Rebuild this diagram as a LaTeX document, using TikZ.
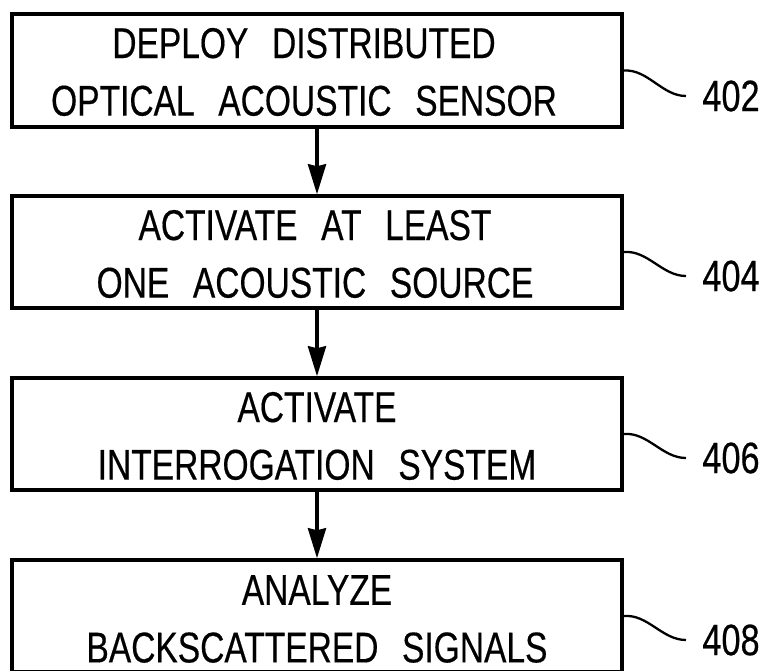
\documentclass[tikz,border=0pt]{standalone}
\usepackage{fontspec}
\setmainfont{Liberation Sans}[FakeStretch=0.78,FakeBold=0.4]
\usetikzlibrary{arrows.meta}
\newcommand{\wgap}{\hspace{0.55em}}
\begin{document}
\begin{tikzpicture}[x=0.5pt,y=-0.5pt,
  stepbox/.style={draw,line width=1.75pt,minimum width=305pt,minimum height=56pt,inner sep=0pt},
  steptext/.style={inner sep=0pt,align=center,font=\fontsize{21.5}{28.8}\selectfont},
  flow/.style={line width=1.75pt,-{Stealth[length=15pt,width=9pt,inset=1pt]}},
  leader/.style={line width=1.15pt},
  reflabel/.style={font=\fontsize{22}{26}\selectfont,anchor=west,inner sep=0pt}]
\useasboundingbox (0,0) rectangle (768,671);
\node[stepbox,minimum height=56.5pt] (b1) at (317,70.5) {};
\node[stepbox] (b2) at (317,252) {};
\node[stepbox] (b3) at (317,434) {};
\node[stepbox] (b4) at (317,616) {};
\node[steptext] (t1) at (304,72) {DEPLOY\wgap DISTRIBUTED\\OPTICAL\wgap ACOUSTIC\wgap SENSOR};
\node[steptext] (t2) at (315,254) {ACTIVATE\wgap AT\wgap LEAST\\ONE\wgap ACOUSTIC\wgap SOURCE};
\node[steptext] (t3) at (317,436) {ACTIVATE\\INTERROGATION\wgap SYSTEM};
\node[steptext] (t4) at (317,619) {ANALYZE\\BACKSCATTERED\wgap SIGNALS};
\draw[flow] (b1.south) -- (b2.north);
\draw[flow] (b2.south) -- (b3.north);
\draw[flow] (b3.south) -- (b4.north);
\coordinate (l1) at (686,96);
\coordinate (l2) at (686,276);
\coordinate (l3) at (686,458);
\coordinate (l4) at (686,640);
\draw[leader] (b1.east) .. controls (648,69) and (662,96) .. (l1);
\draw[leader] (b2.east) .. controls (648,250) and (662,276) .. (l2);
\draw[leader] (b3.east) .. controls (648,432) and (662,458) .. (l3);
\draw[leader] (b4.east) .. controls (648,614) and (662,640) .. (l4);
\node[reflabel] (r1) at (702,96) {402};
\node[reflabel] (r2) at (702,276) {404};
\node[reflabel] (r3) at (702,458) {406};
\node[reflabel] (r4) at (702,640) {408};
\end{tikzpicture}
\end{document}
